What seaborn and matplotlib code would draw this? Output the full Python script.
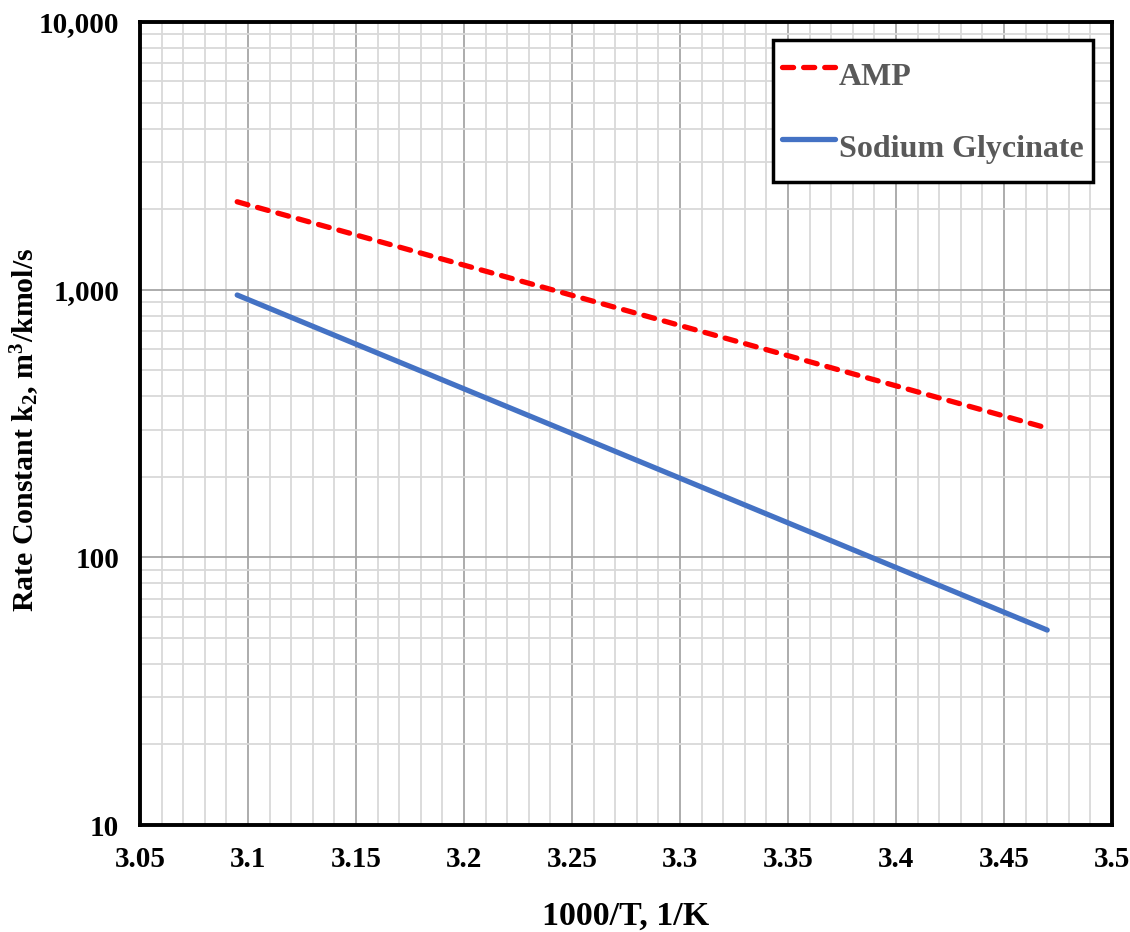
import matplotlib
matplotlib.use("Agg")
import matplotlib.pyplot as plt
import matplotlib.ticker as mticker
from matplotlib.lines import Line2D
import numpy as np
import pandas as pd
import seaborn as sns

# Data
inv_T = [3.095, 3.47]
amp_k = [2130, 304]
glycinate_k = [955, 53.5]
series_names = ["AMP", "Sodium Glycinate"]
x_ticks = [3.05, 3.1, 3.15, 3.2, 3.25, 3.3, 3.35, 3.4, 3.45, 3.5]
x_tick_labels = ["3.05", "3.1", "3.15", "3.2", "3.25", "3.3", "3.35", "3.4", "3.45", "3.5"]
y_ticks = [10, 100, 1000, 10000]
y_tick_labels = ["10", "100", "1,000", "10,000"]

df = pd.DataFrame({
    "x": inv_T * 2,
    "k": amp_k + glycinate_k,
    "series": [series_names[0]] * len(inv_T) + [series_names[1]] * len(inv_T),
})

sns.set_theme(style="white")
plt.rcParams["font.family"] = ["Liberation Serif", "DejaVu Serif"]
plt.rcParams["font.weight"] = "bold"
plt.rcParams["mathtext.fontset"] = "custom"
plt.rcParams["mathtext.rm"] = "Liberation Serif:bold"
plt.rcParams["mathtext.it"] = "Liberation Serif:bold"
plt.rcParams["mathtext.bf"] = "Liberation Serif:bold"

fig = plt.figure(figsize=(11.3, 9.32), dpi=100)
ax = fig.add_axes([140 / 1130, 1 - 825 / 932, 972 / 1130, 803 / 932])

RED = "#ff0000"
BLUE = "#4472c4"
LW = 3.8
DASH = (2.1, 1.9)
palette = {"AMP": RED, "Sodium Glycinate": BLUE}
dashes = {"AMP": DASH, "Sodium Glycinate": ""}
sns.lineplot(data=df, x="x", y="k", hue="series", style="series",
             palette=palette, dashes=dashes, linewidth=LW, ax=ax,
             legend=False)
for ln in ax.get_lines():
    ln.set_dash_capstyle("round")
    ln.set_solid_capstyle("round")

ax.set_yscale("log")
ax.set_xlim(3.05, 3.5)
ax.set_ylim(10, 10000)

ax.set_xticks(x_ticks)
ax.set_xticklabels(x_tick_labels)
ax.xaxis.set_minor_locator(mticker.MultipleLocator(0.01))
ax.set_yticks(y_ticks)
ax.set_yticklabels(y_tick_labels)
ax.yaxis.set_minor_locator(mticker.LogLocator(base=10, subs=np.arange(2, 10)))
ax.yaxis.set_minor_formatter(mticker.NullFormatter())

ax.grid(which="minor", color="#d9d9d9", linewidth=1.3)
ax.grid(which="major", color="#a6a6a6", linewidth=1.3)
ax.set_axisbelow(True)

ax.tick_params(axis="x", which="major", direction="in", length=6, width=2.5,
               color="black", labelsize=21, pad=15)
ax.tick_params(axis="y", which="major", direction="in", length=0,
               labelsize=21, pad=15)
ax.tick_params(which="minor", length=0)
for lab in ax.get_xticklabels() + ax.get_yticklabels():
    lab.set_fontweight("bold")
    lab.set_color("black")

for sp in ax.spines.values():
    sp.set_color("black")
    sp.set_linewidth(2.8)
    sp.set_visible(True)

ax.set_xlabel("1000/T, 1/K", fontsize=24.5, fontweight="bold", color="black", labelpad=20)
ax.set_ylabel(r"Rate Constant k$_2$, m$^3$/kmol/s", fontsize=21.5, fontweight="bold",
              color="black")
ax.yaxis.set_label_coords((42 - 140) / 972, 1 - (430 - 22) / 803)

handles = [
    Line2D([0], [0], color=RED, linewidth=LW, dashes=DASH, dash_capstyle="round"),
    Line2D([0], [0], color=BLUE, linewidth=LW, solid_capstyle="round"),
]
leg = ax.legend(handles, series_names, loc="upper right",
                bbox_to_anchor=(1093 / 1130, 1 - 40 / 932), bbox_transform=fig.transFigure,
                frameon=True, fancybox=False, framealpha=1, edgecolor="black",
                prop={"family": "Liberation Serif", "weight": "bold", "size": 23},
                handlelength=1.65, handleheight=2.05, handletextpad=0.12,
                labelspacing=0.68, borderpad=0.3, borderaxespad=0)
leg.get_frame().set_linewidth(2.5)
for t in leg.get_texts():
    t.set_color("#595959")

fig.savefig("out.png", dpi=100)
